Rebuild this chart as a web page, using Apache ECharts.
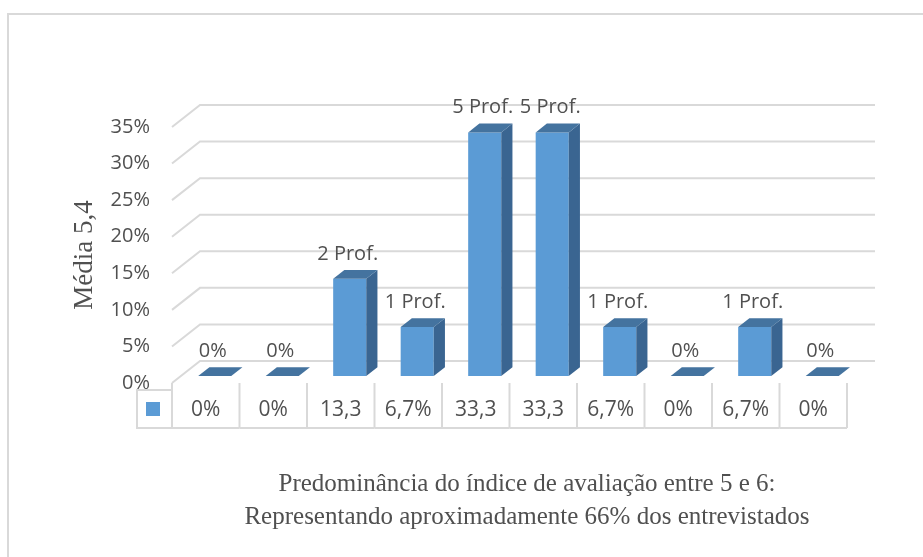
<!DOCTYPE html>
<html>
<head>
<meta charset="utf-8">
<style>
    html, body { margin: 0; padding: 0; background: #fff; }
    #chart { width: 923px; height: 557px; }
</style>
<script src="https://cdn.jsdelivr.net/npm/echarts@6/dist/echarts.min.js"></script>
</head>
<body>
<div id="chart"></div>
<script>
var categories = ['1', '2', '3', '4', '5', '6', '7', '8', '9', '10'];
var values = [0, 0, 13.3, 6.7, 33.3, 33.3, 6.7, 0, 6.7, 0];
var barLabels = ['0%', '0%', '2 Prof.', '1 Prof.', '5 Prof.', '5 Prof.', '1 Prof.', '0%', '1 Prof.', '0%'];
var tableLabels = ['0%', '0%', '13,3', '6,7%', '33,3', '33,3', '6,7%', '0%', '6,7%', '0%'];
var yTicks = [0, 5, 10, 15, 20, 25, 30, 35];
var axisTitle = 'Média 5,4';
var captionLines = ['Predominância do índice de avaliação entre 5 e 6:', 'Representando aproximadamente 66% dos entrevistados'];

// 3d look: depth vector of the back wall
var DX = 28, DY = -22;
var gridColor = '#d9d9d9';
var textColor = '#505050';
var sansFont = '"Open Sans", sans-serif';

function renderWalls(params, api) {
    var v = api.value(0);
    var band = api.size([1, 0])[0];
    var left = api.coord([0, v])[0] - band / 2;
    var right = api.coord([categories.length - 1, v])[0] + band / 2;
    var y = api.coord([0, v])[1];
    return {
        type: 'polyline',
        shape: {points: [[left, y], [left + DX, y + DY], [right + DX, y + DY]]},
        style: {stroke: gridColor, lineWidth: 2, fill: null}
    };
}

function renderBar(params, api) {
    var i = api.value(0);
    var v = api.value(1);
    var c0 = api.coord([i, 0]);
    var c1 = api.coord([i, v]);
    var band = api.size([1, 0])[0];
    var w = band * 0.49;
    var d0 = 0.32, dd = 0.4;
    var x0 = c0[0] - w / 2 + d0 * DX, x1 = x0 + w;
    var base = c0[1] + d0 * DY, top = c1[1] + d0 * DY;
    var ox = dd * DX, oy = dd * DY;
    var children = [];
    if (top < base - 0.5) {
        children.push({
            type: 'polygon',
            shape: {points: [[x0, top], [x1, top], [x1, base], [x0, base]]},
            style: {fill: '#5b9bd5'}
        });
        children.push({
            type: 'polygon',
            shape: {points: [[x1, top], [x1 + ox, top + oy], [x1 + ox, base + oy], [x1, base]]},
            style: {fill: '#3a6591'}
        });
    }
    children.push({
        type: 'polygon',
        shape: {points: [[x0, top], [x1, top], [x1 + ox, top + oy], [x0 + ox, top + oy]]},
        style: {fill: '#44739f'}
    });
    children.push({
        type: 'text',
        style: {
            text: barLabels[i], x: (x0 + x1) / 2 - 2, y: top + oy - 6,
            align: 'center', verticalAlign: 'bottom',
            font: '20px ' + sansFont, fill: textColor
        }
    });
    return {type: 'group', children: children};
}

function renderTable(params, api) {
    var i = api.value(0);
    var c = api.coord([i, 0]);
    var band = api.size([1, 0])[0];
    var l = c[0] - band / 2, r = c[0] + band / 2;
    var y0 = c[1], y1 = c[1] + 45;
    var line = {stroke: gridColor, lineWidth: 2};
    var children = [
        {type: 'line', shape: {x1: r, y1: y0, x2: r, y2: y1}, style: line},
        {type: 'line', shape: {x1: l, y1: y1, x2: r, y2: y1}, style: line},
        {type: 'text', style: {text: tableLabels[i], x: c[0], y: y0 + 27, align: 'center', verticalAlign: 'middle',
            font: '21px ' + sansFont, fill: textColor}}
    ];
    if (i === 0) {
        // series key cell left of the first column
        var kl = l - 35;
        children.push({type: 'line', shape: {x1: l, y1: y0, x2: l, y2: y1}, style: line});
        children.push({type: 'polyline', shape: {points: [[l, y0 + 7], [kl, y0 + 7], [kl, y1], [l, y1]]}, style: {stroke: gridColor, lineWidth: 2, fill: null}});
        children.push({type: 'rect', shape: {x: kl + 9, y: y0 + 19, width: 14, height: 14}, style: {fill: '#5b9bd5'}});
    }
    return {type: 'group', children: children};
}

var chart = echarts.init(document.getElementById('chart'));
chart.setOption({
    animation: false,
    grid: {left: 172, right: 76, top: 127, bottom: 174, containLabel: false},
    xAxis: {
        type: 'category', data: categories,
        axisLine: {show: false}, axisTick: {show: false}, axisLabel: {show: false}
    },
    yAxis: {
        type: 'value', min: 0, max: 35, interval: 5,
        name: axisTitle, nameLocation: 'middle', nameRotate: 90, nameGap: 74,
        nameTextStyle: {fontFamily: '"Liberation Serif", serif', fontSize: 27, color: textColor},
        axisLine: {show: false}, axisTick: {show: false}, splitLine: {show: false},
        axisLabel: {formatter: '{value}%', margin: 22, fontFamily: sansFont, fontSize: 20, color: textColor}
    },
    graphic: [
        {type: 'rect', shape: {x: 8, y: 14, width: 930, height: 560}, style: {fill: null, stroke: gridColor, lineWidth: 2}, z: -10},
        {type: 'text', style: {text: captionLines.join('\n'), x: 527, y: 501, align: 'center', verticalAlign: 'middle',
            font: '25px "Liberation Serif", serif', lineHeight: 33, fill: textColor}}
    ],
    series: [
        {type: 'custom', renderItem: renderWalls, data: yTicks.map(function (t) { return [t]; }), z: 1, silent: true},
        {type: 'custom', renderItem: renderTable, data: categories.map(function (c, i) { return [i]; }), z: 2, silent: true},
        {type: 'custom', renderItem: renderBar, data: values.map(function (v, i) { return [i, v]; }), z: 3, silent: true}
    ]
});
</script>
</body>
</html>
